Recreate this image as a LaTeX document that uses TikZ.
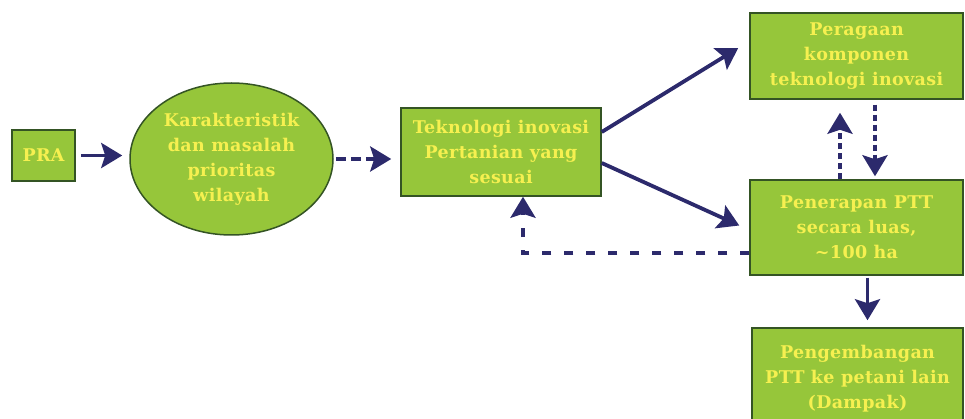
\documentclass[tikz,border=0pt]{standalone}
\usepackage{fontspec}
\setmainfont{DejaVu Serif}[LetterSpace=2]
\usetikzlibrary{arrows.meta,shapes.geometric,calc}
\definecolor{boxfill}{RGB}{150,198,58}
\definecolor{boxline}{RGB}{52,84,36}
\definecolor{txt}{RGB}{246,240,80}
\definecolor{arr}{RGB}{44,42,108}
\newcommand{\shifted}[2]{\raisebox{#1}{\begin{tabular}{@{}c@{}}#2\end{tabular}}}
\tikzset{
  box/.style={draw=boxline, line width=1.5pt, fill=boxfill, text=txt, align=center,
    inner sep=1pt, font=\bfseries\fontsize{17.5}{25}\selectfont},
  oval/.style={box, ellipse},
  link/.style={draw=arr, line width=3.8pt, -{Stealth[length=21pt,width=25pt,inset=4pt]}},
  dlink/.style={link, dash pattern=on 9pt off 13pt},
  slink/.style={link, dash pattern=on 6pt off 4pt},
}
\begin{document}
\begin{tikzpicture}[x=1pt,y=-1pt]
\useasboundingbox (0,0) rectangle (965,419);
\node[box, minimum width=63pt, minimum height=51pt] (pra) at (43.5,155.5) {PRA};
\node[oval, minimum width=203pt, minimum height=152pt, inner sep=0pt] (kar) at (231.5,159)
  {\shifted{-4pt}{Karakteristik\\dan masalah\\prioritas\\wilayah}};
\node[box, minimum width=200pt, minimum height=88pt] (tek) at (501,152)
  {Teknologi inovasi\\Pertanian yang\\sesuai};
\node[box, minimum width=213pt, minimum height=86pt] (per) at (856.5,56)
  {\shifted{-2pt}{Peragaan\\komponen\\teknologi inovasi}};
\node[box, minimum width=213pt, minimum height=95pt] (pen) at (856.5,227.5)
  {Penerapan PTT\\secara luas,\\\textasciitilde100 ha};
\node[box, minimum width=211pt, minimum height=100pt] (peng) at (857.5,378)
  {\shifted{4pt}{Pengembangan\\PTT ke petani lain\\(Dampak)}};

\coordinate (t1) at ($(tek.east)+(0,-20)$);
\coordinate (t2) at ($(tek.east)+(0,11)$);
\coordinate (e1) at ($(per.west)+(-11,-8)$);
\coordinate (e2) at ($(pen.west)+(-10,-2)$);
\coordinate (fb) at ($(pen.west)+(0,25.5)$);

\draw[link, shorten <=5pt, shorten >=7pt] (pra.east) -- (pra.east -| kar.west);
\draw[slink, dash pattern=on 10pt off 5pt, shorten <=2pt, shorten >=9pt] (kar.east) -- (kar.east -| tek.west);
\draw[link] (t1) -- (e1);
\draw[link] (t2) -- (e2);
\draw[slink, shorten >=13pt] ([xshift=-16.5pt]pen.north) -- ([xshift=-16.5pt]per.south);
\draw[slink, shorten <=5pt, shorten >=3pt] ([xshift=18.5pt]per.south) -- ([xshift=18.5pt]pen.north);
\draw[link, shorten <=2pt, shorten >=7pt] ([xshift=11pt]pen.south) -- ([xshift=11pt]pen.south |- peng.north);
\draw[dlink] (fb) -| ([xshift=22pt]tek.south);
\end{tikzpicture}
\end{document}
